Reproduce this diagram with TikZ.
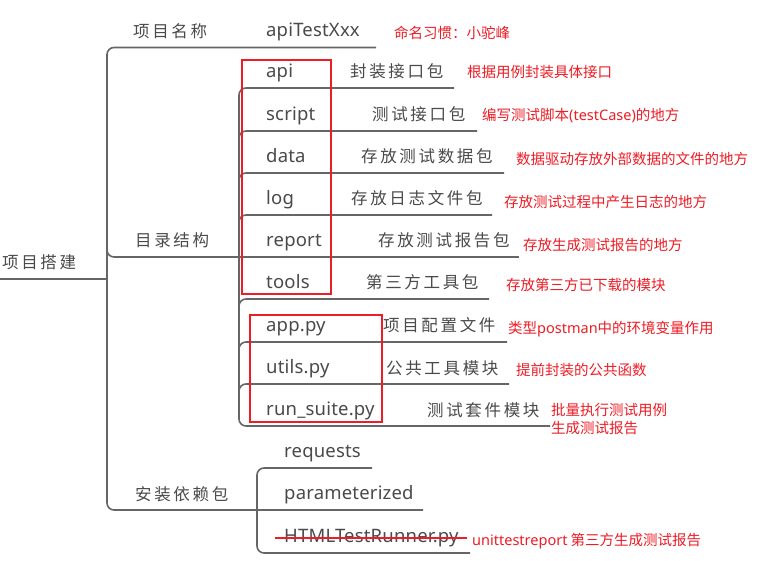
\documentclass[tikz,border=0pt]{standalone}
\usepackage{fontspec}
\setmainfont{Noto Sans}
\newfontfamily\cjk[LetterSpace=16]{Noto Sans CJK SC}
\newfontfamily\cjkr{Noto Sans CJK SC}
\newfontfamily\lat{Noto Sans}
\newfontfamily\latg[LetterSpace=1]{Noto Sans}
\definecolor{txtgray}{HTML}{4A4A4A}
\definecolor{linegray}{HTML}{666666}
\definecolor{notered}{HTML}{EE1C25}
\begin{document}
\begin{tikzpicture}[x=1pt,y=-1pt,
  gt/.style={anchor=base west, inner sep=0pt, text=txtgray, font=\fontsize{16.5}{19}\cjk},
  gl/.style={anchor=base west, inner sep=0pt, text=txtgray, font=\fontsize{18.5}{21}\latg},
  rt/.style={anchor=base west, inner sep=0pt, text=notered, font=\fontsize{14.5}{17}\cjkr},
  conn/.style={draw=linegray, line width=1.6pt, rounded corners=7pt},
  redbox/.style={draw=notered, line width=2pt},
  strike/.style={draw=notered, line width=2pt}]
\fill[white] (0,0) rectangle (766,561);
\useasboundingbox (0,0) rectangle (766,561);

% ---------- gray texts ----------
\node[gt] (root) at (2,268.5) {项目搭建};
\node[gt] (name) at (133,37.5) {项目名称};
\node[gl] (apitest) at (266,37) {apiTestXxx};
\node[gt] (dir) at (135,246.5) {目录结构};
\node[gt] (deps) at (135,500) {安装依赖包};

\node[gl] (api) at (266,77.5) {api};
\node[gl] (script) at (266,120.5) {script};
\node[gl] (data) at (266,162.5) {data};
\node[gl] (log) at (266,204.5) {log};
\node[gl] (report) at (266,246.5) {report};
\node[gl] (tools) at (266,288.5) {tools};
\node[gl] (app) at (266,331.5) {app.py};
\node[gl] (utils) at (266,373.5) {utils.py};
\node[gl] (run) at (266,415.5) {run\_suite.py};

\node[gt] (dapi) at (350,78) {封装接口包};
\node[gt] (dscript) at (372,121) {测试接口包};
\node[gt] (ddata) at (361,163) {存放测试数据包};
\node[gt] (dlog) at (351,205) {存放日志文件包};
\node[gt] (dreport) at (378,247) {存放测试报告包};
\node[gt] (dtools) at (366,289) {第三方工具包};
\node[gt] (dapp) at (383,332) {项目配置文件};
\node[gt] (dutils) at (386,374) {公共工具模块};
\node[gt] (drun) at (427,416) {测试套件模块};

\node[gl] (req) at (284,457.5) {requests};
\node[gl] (param) at (284,499.5) {parameterized};
\node[gl] (html) at (284,542.5) {HTMLTestRunner.py};

% ---------- red notes ----------
\node[rt] (n0) at (394,38.5) {命名习惯：小驼峰};
\node[rt] (n1) at (467,77.5) {根据用例封装具体接口};
\node[rt] (n2) at (482,120.5) {编写测试脚本{\lat(testCase)}的地方};
\node[rt] (n3) at (516,165) {数据驱动存放外部数据的文件的地方};
\node[rt] (n4) at (504,207.5) {存放测试过程中产生日志的地方};
\node[rt] (n5) at (523,251) {存放生成测试报告的地方};
\node[rt] (n6) at (506,290.5) {存放第三方已下载的模块};
\node[rt] (n7) at (508,334) {类型{\lat postman}中的环境变量作用};
\node[rt] (n8) at (516,376) {提前封装的公共函数};
\node[rt] (n9) at (551,415.5) {批量执行测试用例};
\node[rt] (n9b) at (551,433.5) {生成测试报告};
\node[rt] (n10) at (472,545.5) {{\lat unittestreport} 第三方生成测试报告};

% ---------- connector coordinates ----------
\coordinate (rootL) at (0,279);
\coordinate (B0) at (107,279);
\coordinate (B0t) at (107,47.5);
\coordinate (B0b) at (107,510);
\coordinate (nameE) at (376,47.5);
\coordinate (dirS) at (107,257);
\coordinate (B1) at (239,257);
\coordinate (B1t) at (239,88);
\coordinate (B1b) at (239,426);
\coordinate (B2) at (257,510);
\coordinate (B2t) at (257,468);
\coordinate (B2b) at (257,553);

\coordinate (eapi) at (454,88);
\coordinate (escript) at (477,131);
\coordinate (edata) at (504,173);
\coordinate (elog) at (492,215);
\coordinate (ereport) at (519,257);
\coordinate (etools) at (489,299);
\coordinate (eapp) at (507,342);
\coordinate (eutils) at (509,384);
\coordinate (erun) at (550,426);
\coordinate (ereq) at (372,468);
\coordinate (eparam) at (423,510);
\coordinate (ehtml) at (470,553);

% ---------- connectors ----------
\draw[conn] (rootL) -- (B0);
\draw[conn] (nameE) -- (B0t) -- (B0b) -- (eparam);
\draw[conn] ([yshift=7pt]dirS) -- (dirS) -- (B1);
\draw[conn] (eapi) -- (B1t) -- (B1b) -- (erun);
\draw[conn] (B1) -- (ereport);
\foreach \e in {escript,edata,elog,etools,eapp,eutils}{
  \draw[conn] (B1t |- \e) ++(0,7) -- (B1t |- \e) -- (\e);
}
\draw[conn] (ereq) -- (B2t) -- (B2b) -- (ehtml);

% ---------- red marks ----------
\draw[redbox] (242,60) rectangle (331,294);
\draw[redbox] (250,315) rectangle (382,422);
\coordinate (sk1) at (275,537.5);
\coordinate (sk2) at (467,537.5);
\draw[strike] (sk1) -- (sk2);
\end{tikzpicture}
\end{document}
